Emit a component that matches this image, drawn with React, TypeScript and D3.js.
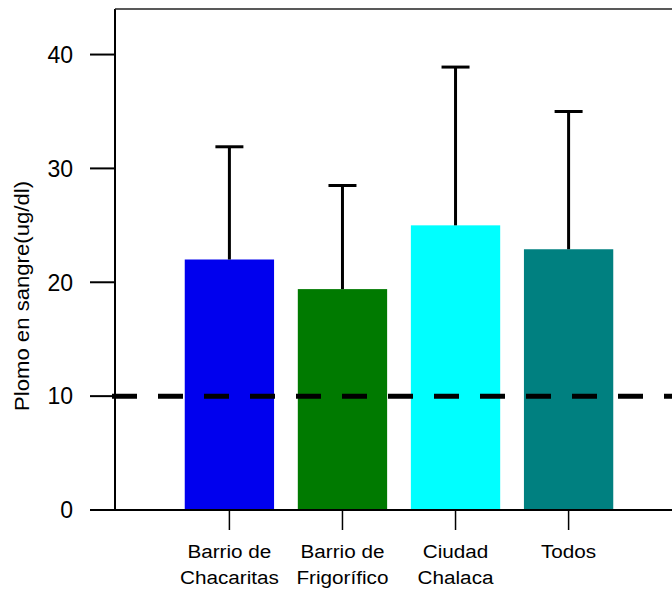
import React from 'react'
import * as d3 from 'd3'

const categories = ['Barrio de\nChacaritas', 'Barrio de\nFrigorífico', 'Ciudad\nChalaca', 'Todos']
const means = [22, 19.4, 25, 22.9]
const upperBars = [31.9, 28.5, 38.9, 35]
const barColors = ['#0000ee', '#007a00', '#00ffff', '#008080']
const yTicks = [0, 10, 20, 30, 40]
const referenceLevel = 10

const W = 672
const H = 591
const left = 115
const top = 9
const bottom = 510

export default function App() {
  const y = d3.scaleLinear().domain([0, 44]).range([bottom, top])
  const x = d3.scaleBand<string>().domain(categories).range([161, 637]).padding(0.21)
  const bw = x.bandwidth()
  const font = '"Liberation Sans", Arial, sans-serif'

  return (
    <svg width={W} height={H} style={{ position: 'absolute', left: 0, top: 0 }} fontFamily={font}>
      <rect x={0} y={0} width={W} height={H} fill="#fff" />
      {/* bars */}
      {categories.map((c, i) => (
        <rect key={c} x={x(c)} y={y(means[i])} width={bw} height={y(0) - y(means[i])} fill={barColors[i]} />
      ))}
      {/* error bars */}
      {categories.map((c, i) => {
        const cx = x(c)! + bw / 2
        return (
          <g key={'e' + c} stroke="#000" strokeWidth={3}>
            <line x1={cx} x2={cx} y1={y(means[i])} y2={y(upperBars[i])} />
            <line x1={cx - 14} x2={cx + 14} y1={y(upperBars[i])} y2={y(upperBars[i])} />
          </g>
        )
      })}
      {/* reference line */}
      <line x1={112} x2={W} y1={y(referenceLevel)} y2={y(referenceLevel)} stroke="#000" strokeWidth={5} strokeDasharray="25 21" />
      {/* frame */}
      <line x1={left} x2={left} y1={top} y2={bottom} stroke="#000" strokeWidth={2} />
      <line x1={left} x2={W + 10} y1={top} y2={top} stroke="#222" strokeWidth={1.5} />
      <line x1={left} x2={W + 10} y1={bottom} y2={bottom} stroke="#000" strokeWidth={2} />
      {/* y axis */}
      {yTicks.map(t => (
        <g key={t}>
          <line x1={90} x2={left} y1={y(t)} y2={y(t)} stroke="#000" strokeWidth={2} />
          <text x={73} y={y(t)} dy="0.36em" textAnchor="end" fontSize={23} fill="#000">{t}</text>
        </g>
      ))}
      <text transform={`translate(29, 296) rotate(-90)`} textAnchor="middle" fontSize={20} fill="#000"
        textLength={230} lengthAdjust="spacingAndGlyphs">
        Plomo en sangre(ug/dl)
      </text>
      {/* x axis */}
      {categories.map(c => {
        const cx = x(c)! + bw / 2
        const lines = c.split('\n')
        return (
          <g key={'x' + c}>
            <line x1={cx} x2={cx} y1={bottom} y2={530} stroke="#000" strokeWidth={1.5} />
            {lines.map((l, j) => (
              <text key={j} transform={`translate(${cx}, ${558 + j * 26}) scale(1.09, 1)`} textAnchor="middle" fontSize={19} fill="#000">{l}</text>
            ))}
          </g>
        )
      })}
    </svg>
  )
}
